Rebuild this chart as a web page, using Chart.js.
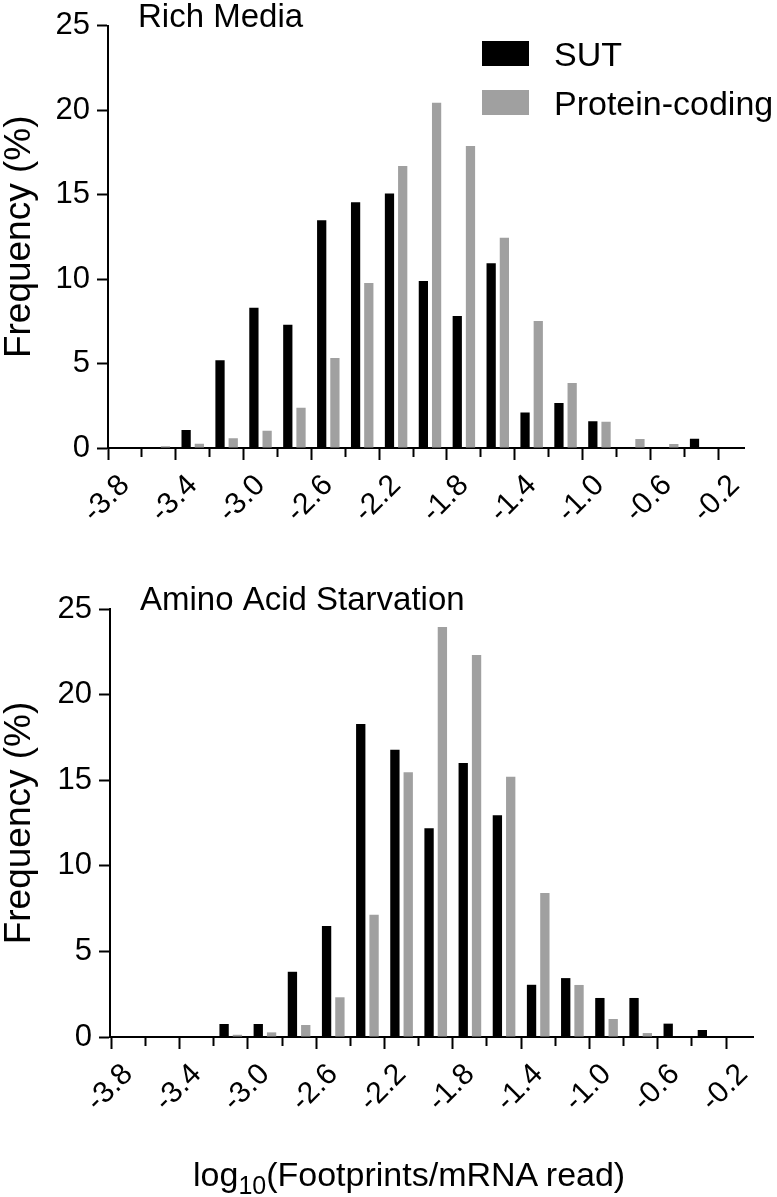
<!DOCTYPE html>
<html>
<head>
<meta charset="utf-8">
<script src="https://cdn.jsdelivr.net/npm/chart.js@4.4.1/dist/chart.umd.min.js"></script>
<style>
    html, body { margin: 0; padding: 0; background: #fff; }
    body { width: 777px; height: 1197px; position: relative; overflow: hidden; font-family: 'Liberation Sans', Arial, sans-serif; }
    .panel { position: absolute; left: 0; width: 777px; }
    #topPanel { top: 0; height: 560px; }
    #bottomPanel { top: 560px; height: 600px; }
    #xTitle { position: absolute; left: 193px; top: 1157px; font-size: 34px; line-height: 34px; white-space: nowrap; color: #000; }
    #xTitle sub { font-size: 25px; line-height: 0; vertical-align: -8px; }
</style>
</head>
<body>
<div class="panel" id="topPanel"><canvas id="richChart"></canvas></div>
<div class="panel" id="bottomPanel"><canvas id="starvChart"></canvas></div>
<div id="xTitle">log<sub>10</sub>(Footprints/mRNA read)</div>

<script>
// -------------------------------
//  DATA
// -------------------------------
const bins = [-3.8, -3.6, -3.4, -3.2, -3.0, -2.8, -2.6, -2.4, -2.2, -2.0,
              -1.8, -1.6, -1.4, -1.2, -1.0, -0.8, -0.6, -0.4, -0.2];

// Rich Media, frequency (%)
const richSUT     = [0, 0, 1.06, 5.2, 8.3, 7.3, 13.48, 14.55, 15.06, 9.88,
                     7.81, 10.93, 2.1, 2.66, 1.59, 0, 0, 0.55, 0];
const richProtein = [0, 0.1, 0.25, 0.57, 1.02, 2.38, 5.33, 9.76, 16.69, 20.43,
                     17.87, 12.44, 7.52, 3.84, 1.55, 0.53, 0.24, 0, 0];

// Amino Acid Starvation, frequency (%)
const starvSUT     = [0, 0, 0, 0.76, 0.76, 3.81, 6.48, 18.28, 16.78, 12.2,
                      16.0, 12.95, 3.05, 3.44, 2.28, 2.28, 0.78, 0.41, 0];
const starvProtein = [0, 0, 0, 0.13, 0.27, 0.7, 2.32, 7.14, 15.46, 23.95,
                      22.31, 15.2, 8.41, 3.04, 1.05, 0.23, 0, 0, 0];

const seriesLabels = ['SUT', 'Protein-coding'];
const yTicks = [0, 5, 10, 15, 20, 25];

// -------------------------------
//  THEME
// -------------------------------
const FONT = "'Liberation Sans', Arial, sans-serif";
const COLORS = { sut: '#000000', protein: '#a0a0a0', axis: '#000000' };

Chart.defaults.font.family = FONT;
Chart.defaults.color = '#000';
Chart.defaults.animation = false;

// panel caption drawn inside the plot
const panelTitlePlugin = {
    id: 'panelTitle',
    afterDraw(chart, args, opts) {
        const ctx = chart.ctx;
        ctx.save();
        ctx.font = `33px ${FONT}`;
        ctx.fillStyle = '#000';
        ctx.textAlign = 'left';
        ctx.textBaseline = 'alphabetic';
        ctx.fillText(opts.text, opts.x, opts.y);
        ctx.restore();
    }
};

// GraphPad style legend: stacked boxes with labels
const boxLegendPlugin = {
    id: 'boxLegend',
    afterDraw(chart, args, opts) {
        if (!opts.show) return;
        const ctx = chart.ctx;
        ctx.save();
        ctx.font = `34px ${FONT}`;
        ctx.textBaseline = 'alphabetic';
        chart.data.datasets.forEach((ds, i) => {
            const y = opts.y + i * opts.rowGap;
            ctx.fillStyle = ds.backgroundColor;
            ctx.fillRect(opts.x, y, 47, 25);
            ctx.fillStyle = '#000';
            ctx.fillText(ds.label, opts.x + 72, y + 25);
        });
        ctx.restore();
    }
};

function makeDataset(label, values, color) {
    return {
        label: label,
        data: bins.map((b, i) => ({ x: b, y: values[i] })),
        backgroundColor: color,
        borderWidth: 0,
        categoryPercentage: 0.78,
        barPercentage: 0.7
    };
}

function makeChart(canvasId, cfg) {
    const ctx = document.getElementById(canvasId).getContext('2d');
    return new Chart(ctx, {
        type: 'bar',
        data: {
            datasets: [
                makeDataset(seriesLabels[0], cfg.sut, COLORS.sut),
                makeDataset(seriesLabels[1], cfg.protein, COLORS.protein)
            ]
        },
        options: {
            responsive: true,
            maintainAspectRatio: false,
            layout: { padding: { top: cfg.padTop, right: cfg.padRight, left: 0, bottom: 0 } },
            scales: {
                x: {
                    type: 'linear',
                    offset: false,
                    min: cfg.xMin,
                    max: cfg.xMax,
                    afterFit: s => { s.height = cfg.xHeight; },
                    border: { display: true, color: COLORS.axis, width: 2 },
                    grid: {
                        display: true,
                        drawOnChartArea: false,
                        tickLength: 12,
                        tickWidth: 2,
                        tickColor: COLORS.axis,
                        // minor ticks (every other one) are shorter
                        tickBorderDash: c => (c.index % 2 ? [8, 100] : [])
                    },
                    ticks: {
                        stepSize: 0.2,
                        maxTicksLimit: 40,
                        includeBounds: false,
                        autoSkip: false,
                        minRotation: 45,
                        maxRotation: 45,
                        padding: 8,
                        color: '#000',
                        font: { size: 30 },
                        callback: (v, i) => (i % 2 === 0 ? Number(v).toFixed(1) : '')
                    }
                },
                y: {
                    min: 0,
                    max: 25,
                    afterFit: s => { s.width = cfg.yWidth; },
                    afterBuildTicks: s => { s.ticks = yTicks.map(v => ({ value: v })); },
                    border: { display: true, color: COLORS.axis, width: 2 },
                    grid: {
                        display: true,
                        drawOnChartArea: false,
                        tickLength: 11,
                        tickWidth: 2,
                        tickColor: COLORS.axis
                    },
                    ticks: {
                        padding: 7,
                        color: '#000',
                        font: { size: 31 }
                    },
                    title: {
                        display: true,
                        text: 'Frequency (%)',
                        color: '#000',
                        font: { size: 37, lineHeight: 1.05 },
                        padding: 0
                    }
                }
            },
            plugins: {
                legend: { display: false },
                tooltip: { enabled: false },
                panelTitle: cfg.title,
                boxLegend: cfg.legend
            }
        },
        plugins: [panelTitlePlugin, boxLegendPlugin]
    });
}

// -------------------------------
//  PANELS
// -------------------------------
makeChart('richChart', {
    sut: richSUT, protein: richProtein,
    xMin: -3.9, xMax: -0.147,
    padTop: 25, padRight: 33, xHeight: 112, yWidth: 108,
    title: { text: 'Rich Media', x: 138, y: 27 },
    legend: { show: true, x: 482, y: 41, rowGap: 49 }
});

makeChart('starvChart', {
    sut: starvSUT, protein: starvProtein,
    xMin: -3.907, xMax: -0.137,
    padTop: 49, padRight: 22, xHeight: 123, yWidth: 110,
    title: { text: 'Amino Acid Starvation', x: 140, y: 50 },
    legend: { show: false }
});
</script>
</body>
</html>
